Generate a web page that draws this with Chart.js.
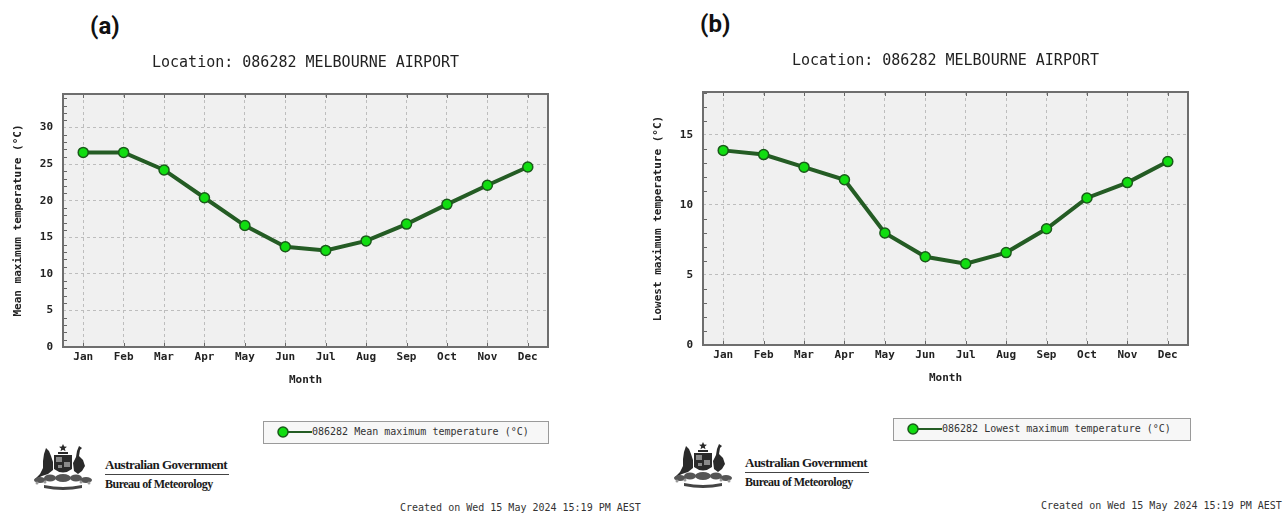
<!doctype html>
<html>
<head>
    <title>Melbourne Airport monthly temperature</title>
    <script src="https://cdn.jsdelivr.net/npm/chart.js@4.4.1/dist/chart.umd.min.js"></script>
    <style>
        body { margin: 0; background: #fff; width: 1288px; height: 513px; position: relative; overflow: hidden; }
        .panel { position: absolute; }
        .tag { position: absolute; font-family: Roboto, Arial, sans-serif; font-weight: bold; font-size: 24px; line-height: 24px; color: #111; }
        .legend {
            position: absolute; height: 21px; border: 1px solid #9a9a9a; background: #f7f7f7;
            font-family: "DejaVu Sans Mono", monospace; font-size: 10px; color: #333;
        }
        .legend svg { position: absolute; left: 10px; top: 3px; }
        .legend span { position: absolute; left: 48px; top: 4px; }
        .logo { position: absolute; width: 200px; height: 52px; }
        .logo svg { position: absolute; left: 0; top: 0; }
        .logo .ag { position: absolute; left: 73px; top: 14px; font-family: "Liberation Serif", serif; font-weight: bold; font-size: 13px; letter-spacing: -0.5px; color: #1a1a1a; }
        .logo .rule { position: absolute; left: 73px; top: 31px; width: 124px; border-top: 1px solid #444; }
        .logo .bom { position: absolute; left: 73px; top: 34px; font-family: "Liberation Serif", serif; font-weight: bold; font-size: 12px; letter-spacing: -0.5px; color: #1a1a1a; }
        .stamp { position: absolute; font-family: "DejaVu Sans Mono", monospace; font-size: 10px; color: #333; }
    </style>
</head>
<body>
    <div class="tag" style="left:90px; top:14px;">(a)</div>
    <div class="tag" style="left:700px; top:12px;">(b)</div>

    <div class="panel" style="left:0; top:40px;"><canvas id="chartA" width="640" height="360"></canvas></div>
    <div class="panel" style="left:640px; top:38px;"><canvas id="chartB" width="640" height="360"></canvas></div>

    <div class="legend" style="left:263px; top:421px; width:284px;">
        <svg width="40" height="14"><line x1="9" y1="7" x2="38" y2="7" stroke="#245c24" stroke-width="2"/><circle cx="9" cy="7" r="5" fill="#11dd11" stroke="#1a5a1a" stroke-width="1.5"/></svg>
        <span id="legendA"></span>
    </div>
    <div class="legend" style="left:893px; top:418px; width:296px;">
        <svg width="40" height="14"><line x1="9" y1="7" x2="38" y2="7" stroke="#245c24" stroke-width="2"/><circle cx="9" cy="7" r="5" fill="#11dd11" stroke="#1a5a1a" stroke-width="1.5"/></svg>
        <span id="legendB"></span>
    </div>

    <div class="logo" style="left:32px; top:443px;">
        <svg class="arms" width="62" height="50" viewBox="0 0 62 50"></svg>
        <div class="ag">Australian Government</div>
        <div class="rule"></div>
        <div class="bom">Bureau of Meteorology</div>
    </div>
    <div class="logo" style="left:672px; top:441px;">
        <svg class="arms" width="62" height="50" viewBox="0 0 62 50"></svg>
        <div class="ag">Australian Government</div>
        <div class="rule"></div>
        <div class="bom">Bureau of Meteorology</div>
    </div>

    <div class="stamp" style="left:400px; top:502px;">Created on Wed 15 May 2024 15:19 PM AEST</div>
    <div class="stamp" style="left:1041px; top:500px;">Created on Wed 15 May 2024 15:19 PM AEST</div>

    <script>
        // data
        var months = ['Jan', 'Feb', 'Mar', 'Apr', 'May', 'Jun', 'Jul', 'Aug', 'Sep', 'Oct', 'Nov', 'Dec'];
        var meanMax = [26.6, 26.6, 24.2, 20.4, 16.6, 13.7, 13.2, 14.5, 16.8, 19.5, 22.1, 24.6];
        var lowestMax = [13.9, 13.6, 12.7, 11.8, 8.0, 6.3, 5.8, 6.6, 8.3, 10.5, 11.6, 13.1];
        var stationTitle = 'Location: 086282 MELBOURNE AIRPORT';
        var seriesA = '086282 Mean maximum temperature (°C)';
        var seriesB = '086282 Lowest maximum temperature (°C)';
        var yTitleA = 'Mean maximum temperature (°C)';
        var yTitleB = 'Lowest maximum temperature (°C)';

        document.getElementById('legendA').textContent = seriesA;
        document.getElementById('legendB').textContent = seriesB;

        // rough coat of arms sketch for the BoM logo
        var arms =
            '<g fill="#2a2a2a">' +
            '<path d="M31 1 L32.2 3.6 L35 3.8 L32.8 5.6 L33.5 8.3 L31 6.8 L28.5 8.3 L29.2 5.6 L27 3.8 L29.8 3.6 Z"/>' +
            '<rect x="26" y="9" width="10" height="2"/>' +
            '<path d="M22 12 L40 12 L40 26 Q31 33 22 26 Z"/>' +
            '<path d="M14 5 L17 8 L19 13 L21 19 L21 27 L16 31 L10 33 L2 37 L8 31 L11 25 L11 18 L12 11 Z"/>' +
            '<path d="M47 3 L50 5 L48 7 L47 13 L51 17 L53 23 L50 28 L46 31 L42 28 L41 20 L44 14 L45 8 Z"/>' +
            '</g>' +
            '<g fill="#8a8a8a"><rect x="24" y="14" width="6" height="5"/><rect x="32" y="19" width="6" height="5"/><rect x="26" y="22" width="4" height="3"/></g>' +
            '<g fill="#555">' +
            '<ellipse cx="8" cy="37" rx="6" ry="3"/><ellipse cx="18" cy="35" rx="6" ry="3.5"/><ellipse cx="31" cy="35" rx="8" ry="4"/>' +
            '<ellipse cx="44" cy="35" rx="6" ry="3.5"/><ellipse cx="54" cy="37" rx="6" ry="3"/>' +
            '</g>' +
            '<g fill="#999"><circle cx="5" cy="40" r="1.5"/><circle cx="13" cy="39" r="1.5"/><circle cx="49" cy="39" r="1.5"/><circle cx="57" cy="40" r="1.5"/></g>' +
            '<path d="M12 42 Q31 46 50 42 L50 45 Q31 49 12 45 Z" fill="#444"/>';
        document.querySelectorAll('svg.arms').forEach(function(s) { s.innerHTML = arms; });

        var mono = 'DejaVu Sans Mono';

        // grey plot background, frame and the little minor ticks
        var frame = {
            id: 'frame',
            beforeDraw: function(chart) {
                var a = chart.chartArea, c = chart.ctx;
                c.save();
                c.fillStyle = '#f0f0f0';
                c.fillRect(a.left, a.top, a.right - a.left, a.bottom - a.top);
                c.restore();
            },
            afterDraw: function(chart) {
                var a = chart.chartArea, c = chart.ctx;
                var y = chart.scales.y, x = chart.scales.x;
                c.save();
                c.strokeStyle = '#666';
                c.lineWidth = 1;
                for (var v = 1; v < y.max; v++) {
                    if (v % 5 == 0) continue;
                    var py = Math.round(y.getPixelForValue(v)) + 0.5;
                    c.beginPath();
                    c.moveTo(a.left, py);
                    c.lineTo(a.left + 4, py);
                    c.stroke();
                }
                for (var i = 0; i < months.length; i++) {
                    var px = Math.round(x.getPixelForValue(i)) + 0.5;
                    c.beginPath();
                    c.moveTo(px, a.top);
                    c.lineTo(px, a.top + 4);
                    c.moveTo(px, a.bottom);
                    c.lineTo(px, a.bottom - 4);
                    c.stroke();
                }
                c.strokeStyle = '#6e6e6e';
                c.lineWidth = 2;
                c.strokeRect(a.left, a.top, a.right - a.left, a.bottom - a.top);
                c.restore();
            }
        };

        function makeChart(id, values, yTitle, legendText) {
            var ctx = document.getElementById(id).getContext('2d');
            return new Chart(ctx, {
                type: 'line',
                data: {
                    labels: months,
                    datasets: [{
                        label: legendText,
                        data: values,
                        borderColor: '#245c24',
                        borderWidth: 4,
                        tension: 0,
                        pointRadius: 5,
                        pointBackgroundColor: '#11dd11',
                        pointBorderColor: '#1a5a1a',
                        pointBorderWidth: 1.5,
                    }]
                },
                options: {
                    responsive: false,
                    animation: false,
                    devicePixelRatio: 1,
                    layout: { padding: { left: 0, right: 92, top: 0, bottom: 0 } },
                    plugins: {
                        legend: { display: false },
                        tooltip: { enabled: false },
                        title: {
                            display: true,
                            text: stationTitle,
                            fullSize: false,
                            color: '#222',
                            font: { family: mono, size: 15, weight: 'normal' },
                            padding: { top: 14, bottom: 22 },
                        },
                    },
                    scales: {
                        x: {
                            offset: true,
                            grid: { color: '#bdbdbd', drawTicks: false },
                            border: { display: false, dash: [3, 3] },
                            ticks: { color: '#222', padding: 4, autoSkip: false, maxRotation: 0, font: { family: mono, size: 11, weight: 'bold' } },
                            title: { display: true, text: 'Month', color: '#222', padding: { top: 0, bottom: 13 }, font: { family: mono, size: 11, weight: 'bold' } },
                            afterFit: function(s) { s.height = 53; },
                        },
                        y: {
                            min: 0,
                            max: Math.max.apply(null, values) * 1.3,
                            grid: { color: '#bdbdbd', drawTicks: false },
                            border: { display: false, dash: [3, 3] },
                            ticks: { stepSize: 5, includeBounds: false, color: '#222', padding: 10, font: { family: mono, size: 11, weight: 'bold' } },
                            title: { display: true, text: yTitle, color: '#222', padding: { top: 12, bottom: 0 }, font: { family: mono, size: 11, weight: 'bold' } },
                            afterFit: function(s) { s.width = 63; },
                        }
                    }
                },
                plugins: [frame]
            });
        }

        makeChart('chartA', meanMax, yTitleA, seriesA);
        makeChart('chartB', lowestMax, yTitleB, seriesB);
    </script>
</body>
</html>
